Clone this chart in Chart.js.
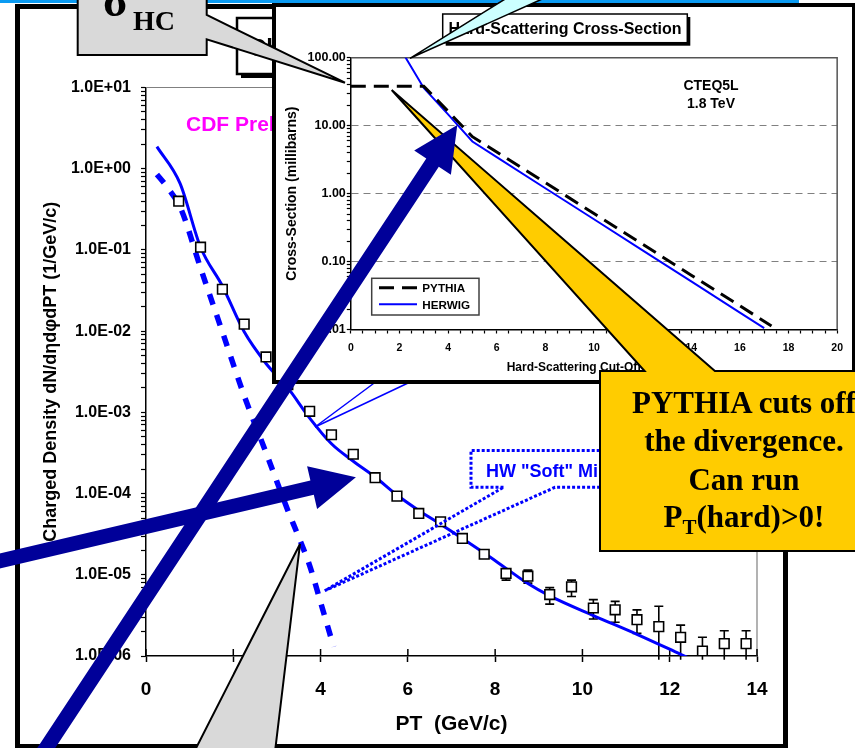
<!DOCTYPE html>
<html>
<head>
<meta charset="utf-8">
<script src="https://cdn.jsdelivr.net/npm/chart.js@4.4.1/dist/chart.umd.min.js"></script>
<style>
  html, body { margin: 0; padding: 0; background: #fff; }
  #page { position: relative; width: 855px; height: 748px; overflow: hidden; background: #fff; }
  .abs { position: absolute; }
  #topRule { left: 0; top: 0; width: 799px; height: 3px; background: #0b9bf2; z-index: 1; }
  #frame { left: 15px; top: 3.5px; width: 773px; height: 745px; box-sizing: border-box; border: 5.5px solid #000; z-index: 1; }
  #mainCanvas { left: 0; top: 0; z-index: 2; }
  #under { left: 0; top: 0; z-index: 3; overflow: visible; }
  #inset { left: 272px; top: 3px; width: 584px; height: 381px; box-sizing: border-box; border: 4.5px solid #000; background: #fff; z-index: 4; }
  #insetCanvas { left: 0; top: 0; }
  #over { left: 0; top: 0; z-index: 5; overflow: visible; }
</style>
</head>
<body>
<div id="page">
  <div id="topRule" class="abs"></div>
  <div id="frame" class="abs"></div>
  <canvas id="mainCanvas" class="abs" width="855" height="748"></canvas>

  <svg id="under" class="abs" width="855" height="748">
    <rect x="241" y="22" width="60" height="56" fill="#000"/>
    <rect x="237" y="18" width="60" height="56" fill="#fff" stroke="#000" stroke-width="2.5"/>
    <text x="249" y="56" font-family="'Liberation Sans', Arial, sans-serif" font-weight="bold" font-size="24">Charged</text>
    <text x="186" y="131" fill="#ff00ff" font-family="'Liberation Sans', Arial, sans-serif" font-weight="bold" font-size="21">CDF Preliminary</text>
    <line x1="315" y1="427" x2="385" y2="375" stroke="#0000ff" stroke-width="1.5"/>
    <line x1="315" y1="427" x2="425" y2="375" stroke="#0000ff" stroke-width="1.5"/>
    <path d="M503.5 487.3 H471 V450.5 H680 V487.3 H555 L324.8 590.7 Z" fill="none" stroke="#0000ff" stroke-width="3" stroke-dasharray="3 2"/>
    <text x="486" y="476.5" fill="#0000ff" font-family="'Liberation Sans', Arial, sans-serif" font-weight="bold" font-size="18">HW "Soft" Min-Bias</text>
  </svg>

  <div id="inset" class="abs">
    <canvas id="insetCanvas" class="abs" width="575" height="372"></canvas>
  </div>

  <svg id="over" class="abs" width="855" height="748">
    <rect x="445.7" y="17" width="244.6" height="28.7" fill="#000"/>
    <rect x="442.7" y="14" width="244.6" height="28.7" fill="#fff" stroke="#000" stroke-width="1.5"/>
    <text x="565" y="34.3" text-anchor="middle" font-family="'Liberation Sans', Arial, sans-serif" font-weight="bold" font-size="16">Hard-Scattering Cross-Section</text>
    <g id="insetLegend"></g>
    <text x="711" y="90" text-anchor="middle" font-family="'Liberation Sans', Arial, sans-serif" font-weight="bold" font-size="14">CTEQ5L</text>
    <text x="711" y="108.3" text-anchor="middle" font-family="'Liberation Sans', Arial, sans-serif" font-weight="bold" font-size="14">1.8 TeV</text>

    <path d="M77.7 -5 H206.7 V15 L345 82.7 L206.7 39.3 V55 H77.7 Z" fill="#d9d9d9" stroke="#000" stroke-width="2"/>
    <text x="103" y="16" font-family="'Liberation Serif', 'DejaVu Serif', serif" font-weight="bold" font-size="46">σ</text>
    <text x="133" y="30" font-family="'Liberation Serif', 'DejaVu Serif', serif" font-weight="bold" font-size="28">HC</text>

    <path d="M410 58.3 L508.3 -3 L546.7 -3 Z" fill="#ccffff" stroke="#000" stroke-width="1.5"/>

    <path d="M600 371 H644.6 L391.7 90 L714.9 371 H880 V551 H600 Z" fill="#ffcc00" stroke="#000" stroke-width="2"/>
    <g font-family="'Liberation Serif', 'Times New Roman', serif" font-weight="bold" font-size="31" text-anchor="middle" fill="#000">
      <text x="744" y="413">PYTHIA cuts off</text>
      <text x="744" y="451">the divergence.</text>
      <text x="744" y="490">Can run</text>
      <text x="744" y="527">P<tspan dy="7" font-size="21">T</tspan><tspan dy="-7">(hard)&gt;0!</tspan></text>
    </g>

    <path d="M300 544 L274 760 L190 760 Z" fill="#d9d9d9" stroke="#000" stroke-width="2"/>
    <path id="arrowA" fill="#000099"/>
    <path id="arrowB" fill="#000099"/>
  </svg>
</div>

<script>
// ---------- Main panel: charged particle density versus PT ----------
const ptBins = [0.75, 1.25, 1.75, 2.25, 2.75, 3.25, 3.75, 4.25, 4.75, 5.25, 5.75, 6.25, 6.75, 7.25,
                7.75, 8.25, 8.75, 9.25, 9.75, 10.25, 10.75, 11.25, 11.75, 12.25, 12.75, 13.25, 13.75];
const cdfDensity = [0.398, 0.108, 0.0328, 0.0122, 0.00481, 0.0022, 1.03e-3, 5.3e-4, 3.05e-4, 1.57e-4,
                    9.3e-5, 5.7e-5, 4.5e-5, 2.8e-5, 1.79e-5, 1.04e-5, 9.6e-6, 5.7e-6, 7.1e-6, 3.9e-6,
                    3.7e-6, 2.8e-6, 2.3e-6, 1.7e-6, 1.15e-6, 1.42e-6, 1.42e-6];
const cdfErrHigh = [null, null, null, null, null, null, null, null, null, null, null, null, null, null, null,
                    1.18e-5, 1.14e-5, 6.95e-6, 8.6e-6, 4.95e-6, 4.7e-6, 3.7e-6, 4.1e-6, 2.4e-6, 1.7e-6, 2.05e-6, 2.05e-6];
const cdfErrLow  = [null, null, null, null, null, null, null, null, null, null, null, null, null, null, null,
                    8.6e-6, 7.9e-6, 4.35e-6, 5.4e-6, 2.85e-6, 2.6e-6, 1.9e-6, 9e-7, 9e-7, 9e-7, 9e-7, 9e-7];

const hwTotalPt = [0.25, 0.78, 1.25, 1.75, 2.25, 2.75, 3.25, 3.75, 4.25, 4.75, 5.25, 5.75, 6.25, 6.75,
                   7.25, 7.75, 8.25, 8.75, 9.25, 10.25, 11.25, 12.25, 12.6];
const hwTotalDensity = [1.87, 0.66, 0.108, 0.036, 0.0098, 4.0e-3, 2.0e-3, 8.5e-4, 4.1e-4, 2.5e-4, 1.6e-4,
                        9.6e-5, 6.2e-5, 4.2e-5, 2.8e-5, 1.85e-5, 1.2e-5, 7.8e-6, 5.5e-6, 3.15e-6, 1.85e-6,
                        1.05e-6, 8.6e-7];

const hwSoftPt = [0.25, 0.5, 0.8, 1.25, 1.75, 2.25, 2.75, 3.0, 3.25, 3.5, 3.75, 4.0, 4.25, 4.3];
const hwSoftDensity = [0.85, 0.58, 0.32, 0.06, 0.0098, 1.6e-3, 3.2e-4, 1.4e-4, 6.2e-5, 2.9e-5, 1.3e-5,
                       4.6e-6, 1.6e-6, 1.3e-6];

const mainXTickLabels = ['0', '2', '4', '6', '8', '10', '12', '14'];
const mainYTickLabels = ['1.0E-06', '1.0E-05', '1.0E-04', '1.0E-03', '1.0E-02', '1.0E-01', '1.0E+00', '1.0E+01'];

// ---------- Inset: hard-scattering cross-section versus PTmin ----------
const pythiaPtMin = [0, 1, 2, 3, 4, 5, 6, 8, 10, 12, 14, 16, 17.3];
const pythiaXsec  = [38.2, 38.2, 38.2, 38.2, 16.3, 6.9, 4.1, 1.45, 0.51, 0.18, 0.063, 0.0223, 0.0113];
const herwigPtMin = [2, 3, 4, 5, 6, 8, 10, 12, 14, 16, 17];
const herwigXsec  = [143, 36, 14.7, 5.86, 3.46, 1.2, 0.42, 0.146, 0.051, 0.0177, 0.0105];

const insetXTickLabels = ['0', '2', '4', '6', '8', '10', '12', '14', '16', '18', '20'];
const insetYTickLabels = ['0.01', '0.10', '1.00', '10.00', '100.00'];

// ---------- helpers ----------
const SANS = "'Liberation Sans', Arial, sans-serif";
Chart.defaults.color = '#000';
Chart.defaults.font.family = SANS;

const toPoints = (xs, ys) => xs.map((x, i) => ({ x, y: ys[i] }));
const isDecade = v => { const e = Math.log10(v); return Math.abs(e - Math.round(e)) < 1e-9; };

// one tick per 1..9 x 10^e, so the axis shows the usual log minor marks
function decadeTicks(loExp, hiExp) {
  const t = [];
  for (let e = loExp; e < hiExp; e++) {
    for (let m = 1; m <= 9; m++) t.push({ value: m * Math.pow(10, e) });
  }
  t.push({ value: Math.pow(10, hiExp) });
  return t;
}

// thin frame on the top and right of the plotting area
const plotFrame = {
  id: 'plotFrame',
  beforeDatasetsDraw(chart, args, opts) {
    const { ctx, chartArea: a } = chart;
    ctx.save();
    ctx.strokeStyle = opts.color;
    ctx.lineWidth = opts.width;
    ctx.beginPath();
    ctx.moveTo(a.left, a.top);
    ctx.lineTo(a.right, a.top);
    ctx.lineTo(a.right, a.bottom);
    ctx.stroke();
    ctx.restore();
  }
};

// x tick marks that also reach up into the plotting area
const innerTicks = {
  id: 'innerTicks',
  beforeDatasetsDraw(chart, args, opts) {
    const { ctx, chartArea: a, scales } = chart;
    const xs = scales.x;
    ctx.save();
    ctx.strokeStyle = '#000';
    ctx.lineWidth = 1.5;
    xs.ticks.forEach(t => {
      const px = xs.getPixelForValue(t.value);
      ctx.beginPath();
      ctx.moveTo(px, a.bottom);
      ctx.lineTo(px, a.bottom - opts.length);
      ctx.stroke();
    });
    ctx.restore();
  }
};

// vertical error bars for the measured points
const errorBars = {
  id: 'errorBars',
  beforeDatasetsDraw(chart) {
    const { ctx, scales } = chart;
    const xs = scales.x, ys = scales.y;
    ctx.save();
    ctx.strokeStyle = '#000';
    ctx.lineWidth = 1.6;
    ptBins.forEach((pt, i) => {
      const hi = cdfErrHigh[i], lo = cdfErrLow[i];
      if (hi == null || lo == null) return;
      const px = xs.getPixelForValue(pt);
      const yHi = ys.getPixelForValue(hi), yLo = ys.getPixelForValue(lo);
      ctx.beginPath();
      ctx.moveTo(px, yHi); ctx.lineTo(px, yLo);
      ctx.moveTo(px - 4.5, yHi); ctx.lineTo(px + 4.5, yHi);
      if (lo >= ys.min) { ctx.moveTo(px - 4.5, yLo); ctx.lineTo(px + 4.5, yLo); }
      ctx.stroke();
    });
    ctx.restore();
  }
};

// ---------- main chart ----------
new Chart(document.getElementById('mainCanvas'), {
  type: 'line',
  data: {
    datasets: [
      {
        label: 'CDF Preliminary',
        data: toPoints(ptBins, cdfDensity),
        showLine: false,
        pointStyle: 'rect',
        pointRadius: 6.8,
        pointBackgroundColor: '#fff',
        pointBorderColor: '#000',
        pointBorderWidth: 1.6,
        borderColor: '#000',
        backgroundColor: '#fff'
      },
      {
        label: 'HERWIG',
        data: toPoints(hwTotalPt, hwTotalDensity),
        borderColor: '#0000ff',
        borderWidth: 3,
        pointRadius: 0,
        cubicInterpolationMode: 'monotone',
        fill: false
      },
      {
        label: 'HW "Soft" Min-Bias',
        data: toPoints(hwSoftPt, hwSoftDensity),
        borderColor: '#0000ff',
        borderWidth: 5.5,
        borderDash: [11, 11],
        borderCapStyle: 'butt',
        pointRadius: 0,
        cubicInterpolationMode: 'monotone',
        fill: false
      }
    ]
  },
  options: {
    responsive: false,
    animation: false,
    devicePixelRatio: 1,
    events: [],
    layout: { padding: { left: 0, top: 87.5, right: 98, bottom: 0 } },
    plugins: {
      legend: { display: false },
      tooltip: { enabled: false },
      plotFrame: { color: '#808080', width: 1.2 },
      innerTicks: { length: 7 }
    },
    scales: {
      x: {
        type: 'linear',
        min: 0, max: 14,
        ticks: {
          stepSize: 2,
          maxRotation: 0,
          autoSkip: false,
          padding: 16,
          color: '#000',
          font: { family: SANS, size: 19, weight: 'bold' },
          callback: v => mainXTickLabels[Math.round(v / 2)]
        },
        grid: { drawOnChartArea: false, tickLength: 6, tickColor: '#000', tickWidth: 1.5 },
        border: { color: '#000', width: 1.5 },
        title: {
          display: true,
          text: 'PT  (GeV/c)',
          color: '#000',
          font: { family: SANS, size: 21, weight: 'bold' },
          padding: { top: 0, bottom: 11 }
        },
        afterFit(s) { s.height = 92; }
      },
      y: {
        type: 'logarithmic',
        min: 1e-6, max: 10,
        afterBuildTicks(s) { s.ticks = decadeTicks(-6, 1); },
        ticks: {
          autoSkip: false,
          padding: 10,
          color: '#000',
          font: { family: SANS, size: 16, weight: 'bold' },
          callback: v => isDecade(v) ? mainYTickLabels[Math.round(Math.log10(v)) + 6] : ''
        },
        grid: { drawOnChartArea: false, tickLength: 5, tickColor: '#000', tickWidth: 1.2 },
        border: { color: '#000', width: 1.5 },
        title: {
          display: true,
          text: 'Charged Density dN/dηdφdPT (1/GeV/c)',
          color: '#000',
          font: { family: SANS, size: 18, weight: 'bold' },
          padding: { top: 40, bottom: 0 }
        },
        afterFit(s) { s.width = 146; }
      }
    }
  },
  plugins: [plotFrame, innerTicks, errorBars]
});

// ---------- inset chart ----------
const insetChart = new Chart(document.getElementById('insetCanvas'), {
  type: 'line',
  data: {
    datasets: [
      {
        label: 'PYTHIA',
        data: toPoints(pythiaPtMin, pythiaXsec),
        borderColor: '#000',
        borderWidth: 3,
        borderDash: [15, 8],
        borderCapStyle: 'butt',
        pointRadius: 0,
        tension: 0,
        fill: false
      },
      {
        label: 'HERWIG',
        data: toPoints(herwigPtMin, herwigXsec),
        borderColor: '#0000ff',
        borderWidth: 2,
        pointRadius: 0,
        tension: 0,
        fill: false
      }
    ]
  },
  options: {
    responsive: false,
    animation: false,
    devicePixelRatio: 1,
    events: [],
    layout: { padding: { left: 0, top: 50.8, right: 9.9, bottom: 0 } },
    plugins: {
      legend: { display: false },
      tooltip: { enabled: false },
      plotFrame: { color: '#555', width: 1.5 }
    },
    scales: {
      x: {
        type: 'linear',
        min: 0, max: 20,
        ticks: {
          stepSize: 0.5,
          maxRotation: 0,
          autoSkip: false,
          maxTicksLimit: 100,
          padding: 8,
          color: '#000',
          font: { family: SANS, size: 10.5, weight: 'bold' },
          callback: v => Math.abs(v / 2 - Math.round(v / 2)) < 1e-6 ? insetXTickLabels[Math.round(v / 2)] : ''
        },
        grid: { drawOnChartArea: false, tickLength: 4, tickColor: '#000', tickWidth: 1.2 },
        border: { color: '#000', width: 1.5 },
        title: {
          display: true,
          text: 'Hard-Scattering Cut-Off PTmin',
          color: '#000',
          font: { family: SANS, size: 12, weight: 'bold' },
          padding: { top: 0, bottom: 4 }
        },
        afterFit(s) { s.height = 49.5; }
      },
      y: {
        type: 'logarithmic',
        min: 0.01, max: 100,
        afterBuildTicks(s) { s.ticks = decadeTicks(-2, 2); },
        ticks: {
          autoSkip: false,
          padding: 1,
          color: '#000',
          font: { family: SANS, size: 12.5, weight: 'bold' },
          callback: v => isDecade(v) ? insetYTickLabels[Math.round(Math.log10(v)) + 2] : ''
        },
        grid: {
          drawOnChartArea: true,
          lineWidth: 1,
          color: ctx => {
            const v = ctx.tick ? ctx.tick.value : 0;
            return (isDecade(v) && v > 0.011 && v < 99) ? '#808080' : 'transparent';
          },
          tickLength: 4,
          tickColor: '#000',
          tickWidth: 1.2
        },
        border: { color: '#000', width: 1.5, dash: [7, 5] },
        title: {
          display: true,
          text: 'Cross-Section (millibarns)',
          color: '#000',
          font: { family: SANS, size: 14, weight: 'bold' },
          padding: { top: 7.6, bottom: 0 }
        },
        afterFit(s) { s.width = 74.8; }
      }
    }
  },
  plugins: [plotFrame]
});

// ---------- inset legend, built from the inset datasets ----------
(function buildLegend() {
  const ns = 'http://www.w3.org/2000/svg';
  const g = document.getElementById('insetLegend');
  const mk = (tag, attrs) => { const el = document.createElementNS(ns, tag); for (const k in attrs) el.setAttribute(k, attrs[k]); return el; };
  g.appendChild(mk('rect', { x: 371.7, y: 278.3, width: 107.3, height: 36.7, fill: '#fff', stroke: '#404040', 'stroke-width': 1.5 }));
  insetChart.data.datasets.forEach((ds, i) => {
    const y = 287.7 + i * 16.6;
    const line = mk('line', { x1: 379, y1: y, x2: 417, y2: y, stroke: ds.borderColor, 'stroke-width': ds.borderWidth });
    if (ds.borderDash) line.setAttribute('stroke-dasharray', ds.borderDash.join(' '));
    g.appendChild(line);
    const t = mk('text', { x: 422.3, y: y + 4.3, 'font-family': SANS, 'font-weight': 'bold', 'font-size': 11.7, fill: '#000' });
    t.textContent = ds.label;
    g.appendChild(t);
  });
})();

// ---------- pointer arrows ----------
function arrowPath(x0, y0, x1, y1, shaft, headW, headL) {
  const dx = x1 - x0, dy = y1 - y0, L = Math.hypot(dx, dy);
  const ux = dx / L, uy = dy / L, px = -uy, py = ux;
  const bx = x1 - ux * headL, by = y1 - uy * headL;
  const s = shaft / 2, h = headW / 2;
  const pts = [
    [x0 + px * s, y0 + py * s], [bx + px * s, by + py * s], [bx + px * h, by + py * h],
    [x1, y1],
    [bx - px * h, by - py * h], [bx - px * s, by - py * s], [x0 - px * s, y0 - py * s]
  ];
  return 'M' + pts.map(p => p[0].toFixed(1) + ' ' + p[1].toFixed(1)).join(' L') + ' Z';
}
document.getElementById('arrowA').setAttribute('d', arrowPath(35, 765, 457.3, 125, 15, 44, 45));
document.getElementById('arrowB').setAttribute('d', arrowPath(-20, 565.7, 355.9, 477.3, 14.5, 44, 45));
</script>
</body>
</html>
